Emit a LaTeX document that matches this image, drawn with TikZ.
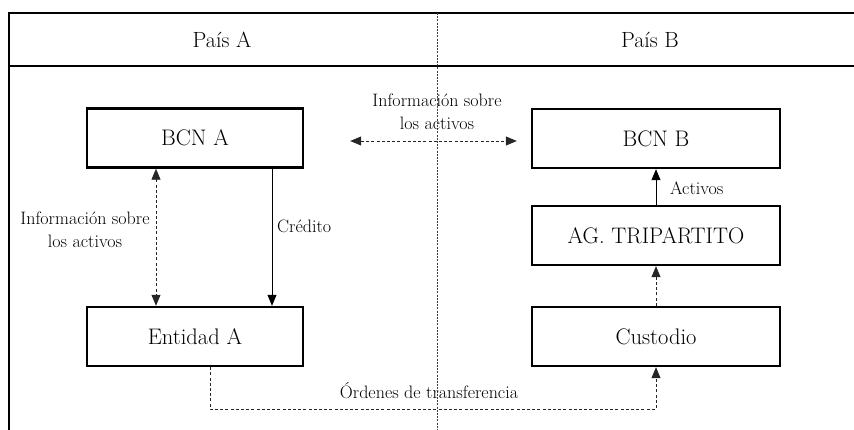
\documentclass[tikz,border=0pt]{standalone}
\usepackage{fontspec}
\usepackage{tikz}
\usetikzlibrary{arrows.meta}
\tikzset{>={Triangle[length=11pt, width=9pt]}}
\tikzset{
    box/.style={rectangle, draw, line width=2.4pt, minimum height=59pt,
    	font=\fontsize{22.5}{26}\selectfont},
    boxA/.style={box, minimum width=216pt},
    boxB/.style={box, minimum width=248pt},
    note/.style={inner sep=1pt, align=center, font=\fontsize{18}{23}\selectfont},
    head/.style={font=\fontsize{22}{26}\selectfont},
    flow/.style={line width=0.8pt, ->},
    info/.style={line width=0.8pt, black!85, dash pattern=on 3pt off 2.2pt},
    frame/.style={line width=2.4pt},
    divider/.style={line width=0.7pt, black!75, dash pattern=on 2pt off 1.2pt}
}

\begin{document}
\begin{tikzpicture}[x=1pt, y=-1pt]
  \useasboundingbox (0,0) rectangle (854,430);
  \clip (0,0) rectangle (854,430);

  % marco y cabecera
  \draw [frame] (880,13) -| (9,440);
  \draw [frame] (9,66) -- (880,66);
  \draw [divider] (437,13) -- (437,430);
  \node (paisA) [head] at (222,40) {País A};
  \node (paisB) [head] at (650,40) {País B};

  \node (bcnA) [boxA] at (195,138) {BCN A};
  \node (entA) [boxA] at (195,336.5) {Entidad A};
  \node (bcnB) [boxB] at (656,138.5) {BCN B};
  \node (ag) [boxB] at (656,235.5) {AG. TRIPARTITO};
  \node (cust) [boxB] at (656,336.5) {Custodio};

  \coordinate (vA) at (156,0);
  \coordinate (cr) at (272,0);
  \coordinate (iAB) at (0,141);
  \coordinate (ord) at (210,409);

  \node (infoA) [note] at (85,230) {Información sobre\\los activos};
  \node (infoAB) [note] at (437,112) {Información sobre\\los activos};
  \node (cred) [note, anchor=west] at (276,226) {Crédito};
  \node (act) [note, anchor=west] at (669,188) {Activos};
  \node (orden) [note] at (429,391) {Órdenes de transferencia};

  \draw [info, <->] (bcnA.south -| vA) -- (entA.north -| vA);
  \draw [flow] (bcnA.south -| cr) -- (entA.north -| cr);
  \draw [info, <->, shorten <=46pt, shorten >=14pt]
    (bcnA.east |- iAB) -- (bcnB.west |- iAB);
  \draw [flow] (ag.north) -- (bcnB.south);
  \draw [info, ->] (cust.north) -- (ag.south);
  \draw [info, ->] (entA.south -| ord) -- (ord) -| (cust.south);
\end{tikzpicture}
\end{document}
